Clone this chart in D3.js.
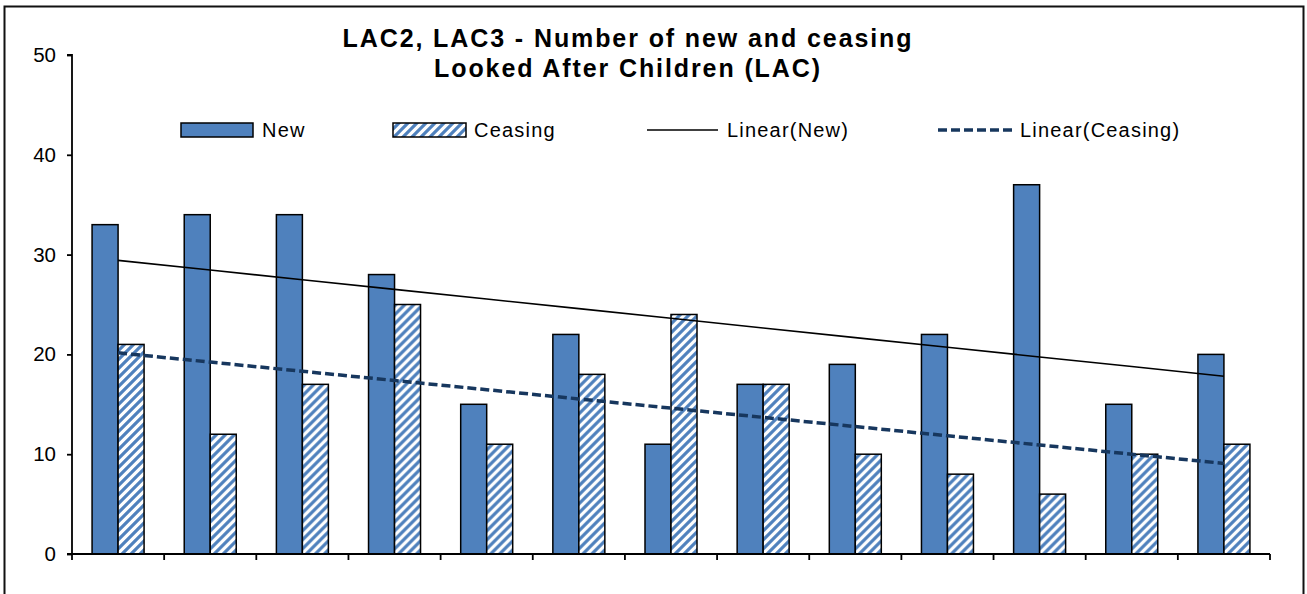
<!DOCTYPE html>
<html>
<head>
<meta charset="utf-8">
<script src="https://cdn.jsdelivr.net/npm/d3@7"></script>
<style>
  html, body { margin: 0; padding: 0; background: #fff; }
  svg { display: block; font-family: "Liberation Sans", Arial, sans-serif; }
</style>
</head>
<body>
<svg id="chart" width="1307" height="594"></svg>
<script>
// ---- data ----
const categories = ["1","2","3","4","5","6","7","8","9","10","11","12","13"];
const newValues = [33, 34, 34, 28, 15, 22, 11, 17, 19, 22, 37, 15, 20];
const ceasingValues = [21, 12, 17, 25, 11, 18, 24, 17, 10, 8, 6, 10, 11];
const yTicks = [0, 10, 20, 30, 40, 50];
const seriesNames = ["New", "Ceasing"];
const titleLines = ["LAC2, LAC3 - Number of new and ceasing", "Looked After Children (LAC)"];

const W = 1307, H = 594;
const margin = { left: 72, right: 37, top: 55, bottom: 40 };
const plotW = W - margin.left - margin.right;   // 1198
const plotH = 554 - margin.top;                 // 499

const blue = "#4F81BD";
const navy = "#17375E";

const svg = d3.select("#chart");

// pattern for hatched bars
const defs = svg.append("defs");
const pat = defs.append("pattern")
  .attr("id", "hatch")
  .attr("patternUnits", "userSpaceOnUse")
  .attr("width", 9).attr("height", 9);
pat.append("rect").attr("width", 9).attr("height", 9).attr("fill", "#fff");
pat.append("path")
  .attr("d", "M-2,11 L11,-2 M-2,2 L2,-2 M7,11 L11,7")
  .attr("stroke", blue).attr("stroke-width", 3.2).attr("fill", "none");

// outer border
svg.append("rect")
  .attr("x", 4.5).attr("y", 6.5).attr("width", 1299).attr("height", 600)
  .attr("fill", "none").attr("stroke", "#111").attr("stroke-width", 2);

const g = svg.append("g").attr("transform", `translate(${margin.left},${margin.top})`);

const x = d3.scaleBand().domain(categories).range([0, plotW]).paddingInner(0).paddingOuter(0);
const bw = x.bandwidth();
const barW = 26;
const pOuter = (bw / (2 * barW) - 1);
const x1 = d3.scaleBand().domain(seriesNames).range([0, bw]).paddingInner(0).paddingOuter(pOuter);
const y = d3.scaleLinear().domain([0, 50]).range([plotH, 0]);

// bars
const rows = categories.map((c, i) => ({ c, New: newValues[i], Ceasing: ceasingValues[i] }));
const grp = g.selectAll(".grp").data(rows).join("g")
  .attr("transform", d => `translate(${x(d.c)},0)`);
grp.selectAll("rect").data(d => seriesNames.map(k => ({ k, v: d[k] }))).join("rect")
  .attr("x", d => x1(d.k))
  .attr("width", x1.bandwidth())
  .attr("y", d => y(d.v))
  .attr("height", d => plotH - y(d.v))
  .attr("fill", d => d.k === "New" ? blue : "url(#hatch)")
  .attr("stroke", "#000").attr("stroke-width", 1.5);

// linear trend lines (least squares on the series)
function trend(vals) {
  const xs = vals.map((_, i) => i + 1);
  const mx = d3.mean(xs), my = d3.mean(vals);
  let sxy = 0, sxx = 0;
  xs.forEach((xi, i) => { sxy += (xi - mx) * (vals[i] - my); sxx += (xi - mx) ** 2; });
  const b = sxy / sxx, a = my - b * mx;
  return xs.map(xi => a + b * xi);
}
const line = d3.line()
  .x((d, i) => x(categories[i]) + bw / 2)
  .y(d => y(d));
const tNew = trend(newValues), tCeas = trend(ceasingValues);
g.append("path").datum(tNew)
  .attr("d", line)
  .attr("fill", "none").attr("stroke", "#000").attr("stroke-width", 1.6);
g.append("path").datum(tCeas)
  .attr("d", line)
  .attr("fill", "none").attr("stroke", navy).attr("stroke-width", 3.5)
  .attr("stroke-dasharray", "9,4");

// axes
const yAxis = d3.axisLeft(y).tickValues(yTicks).tickSize(5).tickPadding(11);
const ya = g.append("g").call(yAxis);
ya.select(".domain").attr("stroke", "#000").attr("stroke-width", 1.8).attr("d", `M-5,${plotH}H0V0H-5`);
ya.selectAll(".tick line").attr("stroke", "#000").attr("stroke-width", 1.8);
ya.selectAll(".tick text").attr("font-size", 20.5).attr("fill", "#000")
  .attr("font-family", "Liberation Sans, Arial, sans-serif");

const xBound = d3.range(categories.length + 1).map(i => i * bw);
const xa = g.append("g").attr("transform", `translate(0,${plotH})`);
xa.append("line").attr("x1", 0).attr("x2", plotW).attr("y1", 0).attr("y2", 0)
  .attr("stroke", "#000").attr("stroke-width", 2);
xa.selectAll(".xt").data(xBound).join("line")
  .attr("x1", d => d).attr("x2", d => d).attr("y1", 0).attr("y2", 6)
  .attr("stroke", "#000").attr("stroke-width", 1.8);

// title (one text element per line)
svg.selectAll(".title").data(titleLines).join("text")
  .attr("class", "title")
  .attr("text-anchor", "middle")
  .attr("font-size", 25).attr("font-weight", "bold").attr("fill", "#000")
  .attr("letter-spacing", 1.9)
  .attr("x", 628).attr("y", (d, i) => 47 + i * 29.5)
  .text(d => d);

// legend
const lg = svg.append("g").attr("font-size", 20).attr("fill", "#000").attr("letter-spacing", 1.2);
lg.append("rect").attr("x", 181).attr("y", 123).attr("width", 72).attr("height", 14)
  .attr("fill", blue).attr("stroke", "#000").attr("stroke-width", 1.5);
lg.append("text").attr("x", 262).attr("y", 137).text(seriesNames[0]);
lg.append("rect").attr("x", 393).attr("y", 123).attr("width", 73).attr("height", 14)
  .attr("fill", "url(#hatch)").attr("stroke", "#000").attr("stroke-width", 1.5);
lg.append("text").attr("x", 474).attr("y", 137).text(seriesNames[1]);
lg.append("line").attr("x1", 647).attr("x2", 718).attr("y1", 130).attr("y2", 130)
  .attr("stroke", "#000").attr("stroke-width", 1.6);
lg.append("text").attr("x", 727).attr("y", 137).text("Linear(New)");
lg.append("line").attr("x1", 938).attr("x2", 1012).attr("y1", 130).attr("y2", 130)
  .attr("stroke", navy).attr("stroke-width", 3.5).attr("stroke-dasharray", "9,4");
lg.append("text").attr("x", 1020).attr("y", 137).text("Linear(Ceasing)");
</script>
</body>
</html>
